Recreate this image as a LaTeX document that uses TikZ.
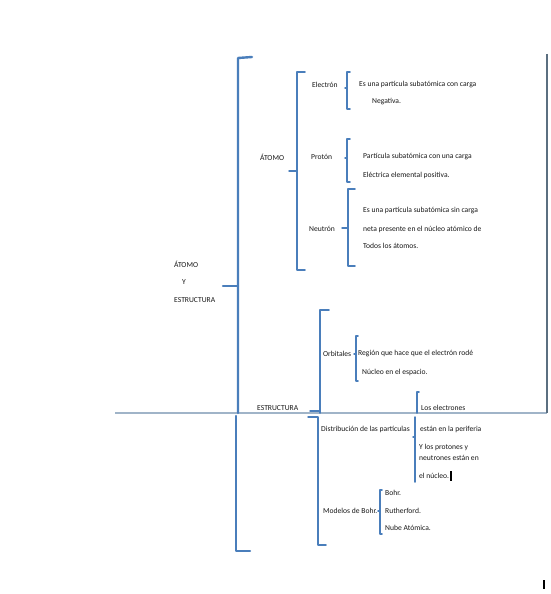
\documentclass[tikz,border=0pt]{standalone}
\usepackage{fontspec}
\setmainfont{Carlito}
\begin{document}
\begin{tikzpicture}[x=1pt,y=-1pt,
  br/.style={draw=brblue,line width=1.5pt,line join=round,line cap=round},
  bigbr/.style={draw=brblue,line width=2.4pt,line join=round,line cap=round},
  lbl/.style={anchor=west,inner sep=0pt,font=\fontsize{7.6}{8.5}\selectfont,text=black!90}]
\definecolor{brblue}{HTML}{4A7EBB}
\definecolor{pageline}{HTML}{A0B4C8}
\definecolor{pageedge}{HTML}{5B6F80}
\useasboundingbox[fill=white] (0,0) rectangle (551,594);
% page boundaries
\draw[pageline,line width=1.1pt] (115,413) -- (547,413);
\draw[pageedge,line width=2pt] (547,54) -- (547,413);
% big bracket
\draw[bigbr] (252,57) -- (238,58) -- (238,413);
\draw[bigbr] (223,286) -- (238,286);
\draw[bigbr] (236,416) -- (236,551) -- (250,551);
% ATOMO bracket
\draw[br] (305,72) -- (297,72) -- (297,270) -- (305,270);
\draw[br] (289,171) -- (297,171);
% Electron
\draw[br] (350,72) -- (347,72) -- (347,109) -- (350,109);
\draw[br] (345,88) -- (347,88);
% Proton
\draw[br] (350,139) -- (347,139) -- (347,182) -- (350,182);
\draw[br] (345,158) -- (347,158);
% Neutron
\draw[br] (355,189) -- (348,189) -- (348,266) -- (355,266);
\draw[br] (342,228) -- (348,228);
% ESTRUCTURA bracket
\draw[br] (329,310) -- (320,310) -- (320,413);
\draw[br] (310,411) -- (320,411);
\draw[br] (308,417) -- (318,417) -- (318,545) -- (326,545);
% Orbitales
\draw[br] (358,336) -- (356,336) -- (356,381) -- (358,381);
\draw[br] (354,354) -- (356,354);
% Los electrones
\draw[br] (419,392) -- (417,392) -- (417,413);
\draw[br] (415,417) -- (415,482);
\draw[br] (413,437) -- (415,437);
% Modelos
\draw[br] (382,490) -- (380,490) -- (380,534) -- (382,534);
\draw[br] (378,511) -- (380,511);
% left texts
\node[lbl] (t1) at (174,264) {ÁTOMO};
\node[lbl] (t2) at (182,282) {Y};
\node[lbl] (t3) at (174,300) {ESTRUCTURA};
\node[lbl] (at) at (260,157) {ÁTOMO};
\node[lbl] (el) at (312,85) {Electrón};
\node[lbl] (pr) at (311,157) {Protón};
\node[lbl] (ne) at (309,229) {Neutrón};
\node[lbl] (es) at (257,408) {ESTRUCTURA};
\node[lbl] (or) at (323,354) {Orbitales};
\node[lbl] (di) at (321,429) {Distribución de las partículas};
\node[lbl] (mo) at (323,511) {Modelos de Bohr.};
% right texts
\node[lbl] (e1) at (359,85) {Es una partícula subatómica con carga};
\node[lbl] (e2) at (372,102) {Negativa.};
\node[lbl] (p1) at (363,157) {Partícula subatómica con una carga};
\node[lbl] (p2) at (363,175) {Eléctrica elemental positiva.};
\node[lbl] (n1) at (363,211) {Es una partícula subatómica sin carga};
\node[lbl] (n2) at (363,229) {neta presente en el núcleo atómico de};
\node[lbl] (n3) at (363,246) {Todos los átomos.};
\node[lbl] (o1) at (358,354) {Región que hace que el electrón rodé};
\node[lbl] (o2) at (362,372) {Núcleo en el espacio.};
\node[lbl] (d0) at (421,408) {Los electrones};
\node[lbl] (d1) at (420,429) {están en la periferia};
\node[lbl] (d2) at (419,447) {Y los protones y};
\node[lbl] (d3) at (419,458) {neutrones están en};
\node[lbl] (d4) at (419,476) {el núcleo.};
\node[lbl] (m1) at (385,493) {Bohr.};
\node[lbl] (m2) at (385,511) {Rutherford.};
\node[lbl] (m3) at (385,528) {Nube Atómica.};
% cursor marks
\fill[black] (450,471) rectangle (452,481);
\fill[black] (543,580) rectangle (545,589);
\end{tikzpicture}
\end{document}
